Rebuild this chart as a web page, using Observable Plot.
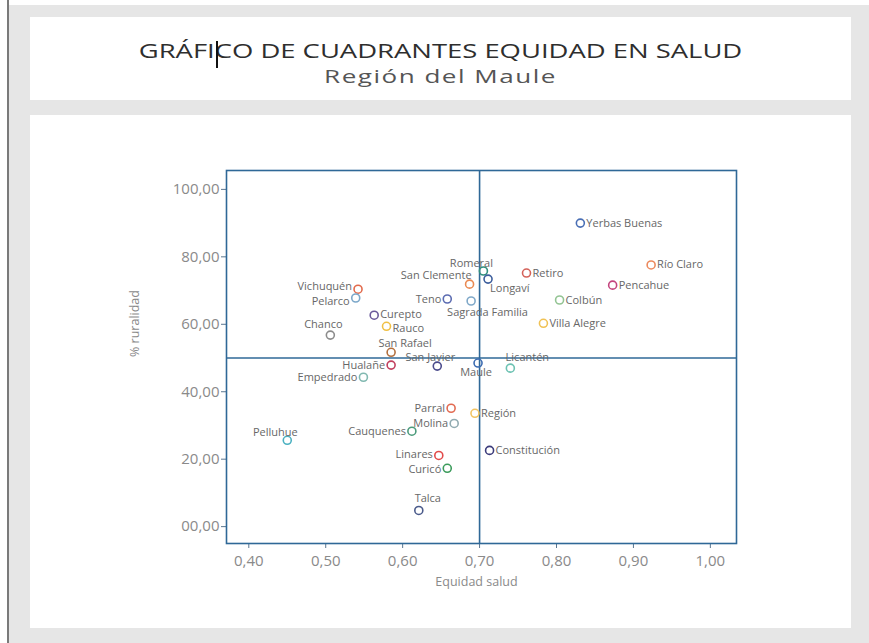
<!DOCTYPE html>
<html>
<head>
<meta charset="utf-8">
<script src="https://cdn.jsdelivr.net/npm/d3@7"></script>
<script src="https://cdn.jsdelivr.net/npm/@observablehq/plot@0.6"></script>
<style>
  html, body { margin: 0; padding: 0; }
  body { width: 869px; height: 643px; position: relative; overflow: hidden; background: #ffffff; font-family: "Open Sans", sans-serif; }
  #edge { position: absolute; left: 7px; top: 0; width: 2px; height: 643px; background: #7a7a7a; }
  #bg { position: absolute; left: 9px; top: 5px; width: 860px; height: 638px; background: #e6e6e6; }
  #titlePanel { position: absolute; left: 30px; top: 17px; width: 821px; height: 83px; background: #ffffff; }
  #chartPanel { position: absolute; left: 30px; top: 115px; width: 821px; height: 513px; background: #ffffff; }
  .ttl { position: absolute; left: 0; width: 821px; text-align: center; line-height: 1; white-space: nowrap; transform: scaleX(1.37); transform-origin: 410.5px 0; }
  #title { top: 24px; font-size: 20px; color: #2e2e2e; }
  #subtitle { top: 50px; font-size: 19px; color: #555555; letter-spacing: 1.1px; }
  #cursor { position: absolute; left: 186px; top: 24px; width: 1.5px; height: 27px; background: #111; }
  #chartPanel svg { position: absolute; left: 0; top: 0; }
</style>
</head>
<body>
<div id="edge"></div>
<div id="bg"></div>
<div id="titlePanel">
  <div class="ttl" id="title">GRÁFICO DE CUADRANTES EQUIDAD EN SALUD</div>
  <div class="ttl" id="subtitle">Región del Maule</div>
  <div id="cursor"></div>
</div>
<div id="chartPanel"></div>
<script>
// ---- data ----
const comunas = ["Yerbas Buenas","Río Claro","Pencahue","Retiro","Romeral","Longaví","San Clemente","Colbún","Villa Alegre","Sagrada Familia","Teno","Vichuquén","Pelarco","Curepto","Rauco","Chanco","San Rafael","Hualañe","San Javier","Maule","Licantén","Empedrado","Parral","Región","Molina","Cauquenes","Pelluhue","Constitución","Linares","Curicó","Talca"];
const equidadSalud = [0.831,0.923,0.873,0.761,0.705,0.711,0.687,0.804,0.783,0.689,0.658,0.542,0.539,0.563,0.579,0.506,0.585,0.585,0.645,0.698,0.740,0.549,0.663,0.694,0.667,0.612,0.450,0.713,0.647,0.658,0.621];
const ruralidad = [90.0,77.6,71.6,75.2,75.8,73.4,71.9,67.2,60.3,66.9,67.5,70.4,67.8,62.7,59.4,56.8,51.7,47.9,47.6,48.5,47.0,44.3,35.1,33.6,30.6,28.3,25.6,22.6,21.1,17.3,4.8];
const pointColors = ["#4a6fb5","#ec8a5e","#c4457e","#d4625a","#2f8f7d","#3b5d9c","#ea8a52","#93c493","#f0c255","#80a9c9","#5b6bb1","#e26a4c","#7ba7c9","#6b5a9b","#f0c045","#8c8c8c","#b3703f","#c2415f","#4b4b8c","#3b6bb1","#6cc2b2","#82b9b1","#e26b52","#f2c462","#91abb1","#4b9b7b","#4bb1c1","#3b3b7b","#e24b4b","#3b9b5b","#4b5b8b"];
const xTicks = [0.40,0.50,0.60,0.70,0.80,0.90,1.00];
const xTickLabels = ["0,40","0,50","0,60","0,70","0,80","0,90","1,00"];
const yTicks = [0,20,40,60,80,100];
const yTickLabels = ["00,00","20,00","40,00","60,00","80,00","100,00"];
const xThreshold = 0.70;
const yThreshold = 50;
const xLabel = "Equidad salud";
const yLabel = "% ruralidad";

// ---- label placement (layout) ----
const R = ["start", 6, 0], L = ["end", -6, 0];
const labelPlace = {
  "Yerbas Buenas": R, "Río Claro": R, "Pencahue": R, "Retiro": R,
  "Romeral": ["middle", -12, -8], "Longaví": ["start", 2, 9], "San Clemente": ["end", 2, -9],
  "Colbún": R, "Villa Alegre": R, "Sagrada Familia": ["start", -24, 11], "Teno": L,
  "Vichuquén": ["end", -6, -3], "Pelarco": ["end", -6, 3], "Curepto": ["start", 6, -1], "Rauco": ["start", 6, 2],
  "Chanco": ["middle", -7, -11],
  "San Rafael": ["middle", 14, -9], "Hualañe": L, "San Javier": ["middle", -7, -9],
  "Maule": ["middle", -2, 9], "Licantén": ["middle", 17, -11], "Empedrado": L,
  "Parral": L, "Región": R, "Molina": L, "Cauquenes": L, "Pelluhue": ["middle", -12, -8],
  "Constitución": R, "Linares": ["end", -6, -1], "Curicó": ["end", -6, 1], "Talca": ["middle", 9, -12]
};

const data = comunas.map((name, i) => ({name, x: equidadSalud[i], y: ruralidad[i], color: pointColors[i]}));
const xFmt = new Map(xTicks.map((t, i) => [t, xTickLabels[i]]));
const yFmt = new Map(yTicks.map((t, i) => [t, yTickLabels[i]]));

const lineColor = "#2f6897";
const labelMarks = ["start", "middle", "end"].flatMap(anchor => {
  const groups = {};
  data.filter(d => labelPlace[d.name][0] === anchor).forEach(d => {
    const key = labelPlace[d.name][1] + "," + labelPlace[d.name][2];
    (groups[key] = groups[key] || []).push(d);
  });
  return Object.entries(groups).map(([key, rows]) => {
    const [dx, dy] = key.split(",").map(Number);
    return Plot.text(rows, {x: "x", y: "y", text: "name", textAnchor: anchor, dx, dy,
      fill: "#676767", fontSize: 11, style: "letter-spacing:1.6px"});
  });
});

const chart = Plot.plot({
  width: 821,
  height: 513,
  marginLeft: 196,
  marginRight: 115,
  marginTop: 55,
  marginBottom: 85,
  style: {fontFamily: "Open Sans, sans-serif", background: "transparent", overflow: "visible"},
  x: {domain: [0.371, 1.034]},
  y: {domain: [-5, 105.6]},
  color: {type: "identity"},
  marks: [
    Plot.axisX({ticks: xTicks, tickFormat: d => xFmt.get(d), tickSize: 5, stroke: "#5a7690",
      fill: "#8a8a8a", fontSize: 15, tickPadding: 7, style: "letter-spacing:2px", label: null}),
    Plot.axisY({ticks: yTicks, tickFormat: d => yFmt.get(d), tickSize: 5, stroke: "#5a7690",
      fill: "#8a8a8a", fontSize: 15, tickPadding: 2, style: "letter-spacing:2px", label: null}),
    Plot.text([xLabel], {frameAnchor: "bottom", dy: 42, fontSize: 12.5, fill: "#8a8a8a", dx: -5, style: "letter-spacing:1.1px"}),
    Plot.text([yLabel], {frameAnchor: "left", dx: -92, rotate: -90, fontSize: 12.5, fill: "#8a8a8a", style: "letter-spacing:1px"}),
    Plot.frame({stroke: lineColor, strokeWidth: 1.6}),
    Plot.ruleX([xThreshold], {stroke: lineColor, strokeWidth: 1.6}),
    Plot.ruleY([yThreshold], {stroke: lineColor, strokeWidth: 1.6}),
    Plot.dot(data, {x: "x", y: "y", stroke: "color", r: 4, strokeWidth: 1.6, fill: "none"}),
    ...labelMarks
  ]
});
document.getElementById("chartPanel").appendChild(chart);
</script>
</body>
</html>
